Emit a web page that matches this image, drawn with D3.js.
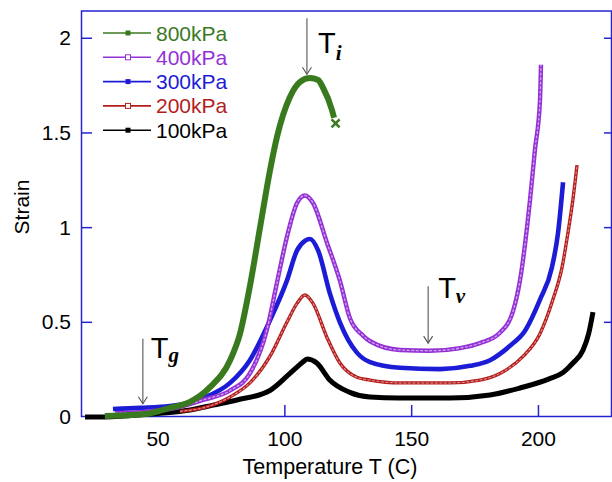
<!DOCTYPE html>
<html>
<head>
<meta charset="utf-8">
<script src="https://cdn.jsdelivr.net/npm/d3@7"></script>
<style>
  body { margin: 0; background: #fff; }
  svg { display: block; font-family: Arial, "Liberation Sans", sans-serif; }
</style>
</head>
<body>
<svg id="chart" width="612" height="482"></svg>
<script>
// values: temperature (C) and strain
var t800 = [29, 39, 47, 54.7, 62.6, 70.5, 78.4, 82.3, 86.2, 90.2, 94.1, 96.9, 102, 106, 109.9, 113.1, 115, 118.6, 119.4];
var s800 = [0.005, 0.01, 0.02, 0.048, 0.08, 0.158, 0.30, 0.44, 0.69, 1.00, 1.30, 1.48, 1.69, 1.77, 1.79, 1.78, 1.74, 1.62, 1.58];

var t400 = [33, 46.8, 57.5, 67.7, 78.4, 86.2, 92.9, 96.9, 100.8, 104.8, 107.9, 111.1, 116.6, 121.7, 125.7, 130.8, 133.6, 145.4, 157.2, 169.1, 176.9, 184.8, 190, 192.7, 196.7, 198.6, 200.6, 201];
var s400 = [0.02, 0.03, 0.05, 0.09, 0.14, 0.23, 0.46, 0.71, 0.95, 1.13, 1.17, 1.13, 0.92, 0.72, 0.52, 0.43, 0.40, 0.354, 0.35, 0.364, 0.39, 0.445, 0.56, 0.72, 1.15, 1.41, 1.67, 1.86];

var t300 = [32.2, 42.9, 54.7, 67.7, 78.4, 86.2, 94.1, 100.8, 104.8, 107.9, 109.9, 113.1, 117.8, 121.7, 128.4, 133.6, 145.4, 161.2, 173, 180.9, 190, 193.9, 200.6, 205.3, 207.7, 209.7];
var s300 = [0.042, 0.048, 0.058, 0.10, 0.18, 0.30, 0.51, 0.72, 0.88, 0.93, 0.94, 0.88, 0.65, 0.50, 0.34, 0.29, 0.26, 0.253, 0.27, 0.30, 0.39, 0.44, 0.62, 0.79, 0.97, 1.24];

var t200 = [58.6, 67.7, 78.4, 86.2, 94.1, 100.8, 104.8, 107.9, 111.1, 116.6, 121.7, 128.4, 133.6, 145.4, 165.1, 176.9, 184.8, 193.9, 200.6, 205.7, 209.3, 211.6, 213.6, 215.2];
var s200 = [0.03, 0.048, 0.106, 0.18, 0.32, 0.50, 0.60, 0.644, 0.60, 0.42, 0.285, 0.21, 0.195, 0.18, 0.18, 0.195, 0.23, 0.32, 0.44, 0.62, 0.79, 0.97, 1.15, 1.33];

var t100 = [21.2, 29.1, 46.8, 62.6, 71.7, 81.1, 94.1, 102, 107.1, 108.7, 112.6, 117.7, 125.6, 133.5, 145, 165.1, 180.9, 192.7, 204, 209.7, 213.6, 217.6, 219.8, 221.5];
var s100 = [0, 0, 0.016, 0.037, 0.063, 0.09, 0.14, 0.23, 0.29, 0.306, 0.285, 0.195, 0.13, 0.105, 0.10, 0.10, 0.116, 0.153, 0.20, 0.235, 0.285, 0.354, 0.44, 0.554];

var seriesNames = ["800kPa", "400kPa", "300kPa", "200kPa", "100kPa"];
var xTicks = [50, 100, 150, 200];
var yTicks = [0, 0.5, 1, 1.5, 2];

// failure point at end of the 800kPa run
var failT = 120, failS = 1.55;

// annotations: label, subscript, temperature and strain at arrow tip
var markNames = ["T", "T", "T"];
var markSubs = ["i", "v", "g"];
var markT = [108.7, 156.5, 44];
var markS = [1.81, 0.39, 0.07];

var svg = d3.select("#chart");
var frameColor = "#2424d0";

var x = d3.scaleLinear().domain([20, 229]).range([82, 612]);
var y = d3.scaleLinear().domain([0, 2.144]).range([417, 11]);

function pairs(t, s) {
  return t.map(function(d, i) { return [d, s[i]]; });
}

var series = [
  {name: seriesNames[4], data: pairs(t100, s100), color: "#000000", w: 5, marker: "fill"},
  {name: seriesNames[3], data: pairs(t200, s200), color: "#b51d1d", w: 3.4, marker: "open"},
  {name: seriesNames[2], data: pairs(t300, s300), color: "#1c1cd6", w: 4.6, marker: "fill"},
  {name: seriesNames[1], data: pairs(t400, s400), color: "#9431d6", w: 4.4, marker: "open"},
  {name: seriesNames[0], data: pairs(t800, s800), color: "#3a7a1f", w: 6, marker: "fill"}
];

var line = d3.line()
  .x(function(d) { return x(d[0]); })
  .y(function(d) { return y(d[1]); })
  .curve(d3.curveMonotoneX);

// frame
svg.append("rect")
  .attr("x", 81.5).attr("y", 11)
  .attr("width", 530).attr("height", 405.5)
  .attr("fill", "none")
  .attr("stroke", frameColor)
  .attr("stroke-width", 1.5);

// ticks pointing inward
svg.selectAll(".xtick").data(xTicks).enter().append("line")
  .attr("x1", function(d) { return x(d); }).attr("x2", function(d) { return x(d); })
  .attr("y1", 416).attr("y2", 405)
  .attr("stroke", frameColor).attr("stroke-width", 1.5);

svg.selectAll(".ytick").data(yTicks.slice(1)).enter().append("line")
  .attr("x1", 82).attr("x2", 92)
  .attr("y1", function(d) { return y(d); }).attr("y2", function(d) { return y(d); })
  .attr("stroke", frameColor).attr("stroke-width", 1.5);

svg.selectAll(".rtick").data(yTicks.slice(1)).enter().append("line")
  .attr("x1", 604).attr("x2", 612)
  .attr("y1", function(d) { return y(d); }).attr("y2", function(d) { return y(d); })
  .attr("stroke", frameColor).attr("stroke-width", 1.5);

// tick labels
svg.selectAll(".xlab").data(xTicks).enter().append("text")
  .attr("x", function(d) { return x(d); })
  .attr("y", 446)
  .attr("text-anchor", "middle")
  .attr("font-size", 21)
  .text(function(d) { return d; });

svg.selectAll(".ylab").data(yTicks).enter().append("text")
  .attr("x", 71)
  .attr("y", function(d) { return y(d) + 7; })
  .attr("text-anchor", "end")
  .attr("font-size", 21)
  .text(function(d) { return d; });

svg.append("text")
  .attr("x", 330).attr("y", 474)
  .attr("text-anchor", "middle")
  .attr("font-size", 21.5)
  .text("Temperature T (C)");

svg.append("text")
  .attr("transform", "translate(29,207) rotate(-90)")
  .attr("text-anchor", "middle")
  .attr("font-size", 21)
  .text("Strain");

// curves
series.forEach(function(s) {
  svg.append("path")
    .datum(s.data)
    .attr("d", line)
    .attr("fill", "none")
    .attr("stroke", s.color)
    .attr("stroke-width", s.w)
    .attr("stroke-linejoin", "round");
  if (s.marker == "open") {
    // hollow square markers read as a light core
    svg.append("path")
      .datum(s.data)
      .attr("d", line)
      .attr("fill", "none")
      .attr("stroke", "#ffffff")
      .attr("stroke-opacity", 0.55)
      .attr("stroke-width", s.w * 0.3)
      .attr("stroke-dasharray", "3,1.5");
  }
});

// x at failure
var fx = x(failT), fy = y(failS);
svg.append("path")
  .attr("d", "M" + (fx - 4) + "," + (fy - 4) + "L" + (fx + 4) + "," + (fy + 4) +
             "M" + (fx - 4) + "," + (fy + 4) + "L" + (fx + 4) + "," + (fy - 4))
  .attr("stroke", "#3a7a1f")
  .attr("stroke-width", 2.5);

// arrows with T labels
var arrowLen = [56, 57, 65];
var labDx = [11, 10, 8];
var labDy = [35, 12, 19];
var subDy = [7, 5, 4];
markT.forEach(function(t, i) {
  var ax = x(t), ay = y(markS[i]);
  svg.append("line")
    .attr("x1", ax).attr("x2", ax)
    .attr("y1", ay - arrowLen[i]).attr("y2", ay)
    .attr("stroke", "#555").attr("stroke-width", 1.1);
  svg.append("path")
    .attr("d", "M" + (ax - 4.5) + "," + (ay - 7) + "L" + ax + "," + ay + "L" + (ax + 4.5) + "," + (ay - 7))
    .attr("fill", "none").attr("stroke", "#555").attr("stroke-width", 1.1);
  var lab = svg.append("text")
    .attr("x", ax + labDx[i])
    .attr("y", ay - arrowLen[i] + labDy[i])
    .attr("font-size", 29);
  lab.append("tspan").text(markNames[i]);
  lab.append("tspan")
    .attr("dy", subDy[i])
    .attr("font-family", "'Liberation Serif', 'DejaVu Serif', serif")
    .attr("font-style", "italic")
    .attr("font-weight", "bold")
    .attr("font-size", 21)
    .text(markSubs[i]);
});

// legend, top to bottom
var legendOrder = series.slice().reverse();
legendOrder.forEach(function(s, i) {
  var ly = 33 + i * 24.3;
  svg.append("line")
    .attr("x1", 103).attr("x2", 151)
    .attr("y1", ly).attr("y2", ly)
    .attr("stroke", s.color).attr("stroke-width", 1.6);
  svg.append("rect")
    .attr("x", 125.5).attr("y", ly - 2.5)
    .attr("width", 5).attr("height", 5)
    .attr("fill", s.marker == "open" ? "#fff" : s.color)
    .attr("stroke", s.color).attr("stroke-width", s.marker == "open" ? 1 : 0);
  svg.append("text")
    .attr("x", 156).attr("y", ly + 7.5)
    .attr("font-size", 21)
    .attr("fill", s.color)
    .text(s.name);
});
</script>
</body>
</html>
